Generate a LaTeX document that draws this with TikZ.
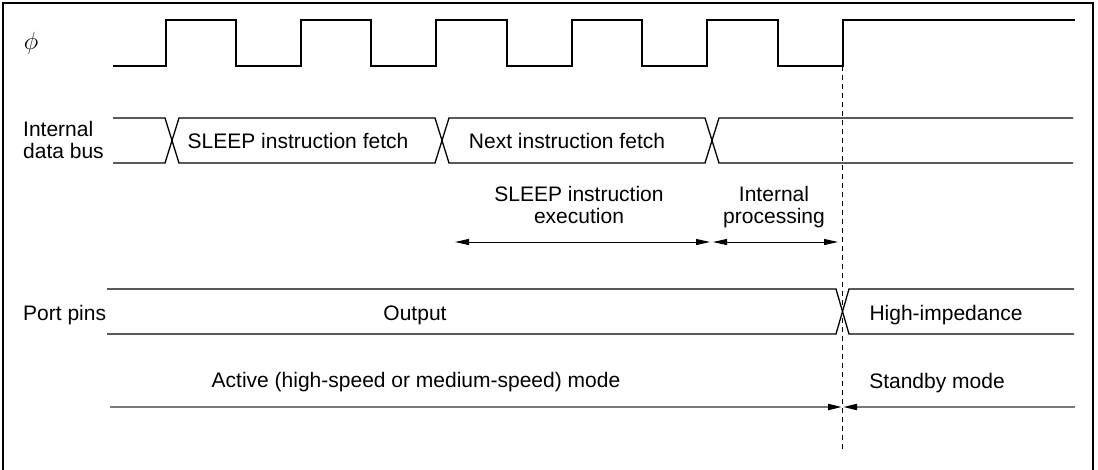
\documentclass[tikz,border=0pt]{standalone}
\usepackage{fontspec}
\setmainfont{Liberation Sans}
\usetikzlibrary{arrows.meta}
\definecolor{modegray}{RGB}{120,120,120}
\tikzset{
  txt/.style={inner sep=0pt, font=\fontsize{21}{22}\selectfont, anchor=base},
  wave/.style={line width=1.3pt, line join=miter},
  dim/.style={line width=1pt, {Triangle[length=14pt,width=6pt]}-{Triangle[length=14pt,width=6pt]}},
  modeline/.style={line width=2pt, modegray, -{Triangle[length=14pt,width=6pt,color=black]}},
  guide/.style={line width=0.9pt, dash pattern=on 5pt off 4pt},
}
\begin{document}
\begin{tikzpicture}[x=1pt,y=-1pt]
\useasboundingbox (0,0) rectangle (1098,469);
% frame
\draw[line width=1.2pt] (3,470) -- (3,3) -- (1093,3) -- (1093,470);

% clock
\draw[wave] (113,66) -- (166,66) -- (166,20) -- (236,20) -- (236,66) -- (301,66) -- (301,20) -- (371,20) -- (371,66)
  -- (436,66) -- (436,20) -- (507,20) -- (507,66) -- (572,66) -- (572,20) -- (642,20) -- (642,66)
  -- (707,66) -- (707,20) -- (778,20) -- (778,66) -- (843,66) -- (843,20) -- (1075,20);

% internal data bus
\draw[wave] (113,118) -- (165,118) -- (179,163) -- (435,163) -- (449,118) -- (705,118) -- (719,163) -- (1073,163);
\draw[wave] (113,163) -- (165,163) -- (179,118) -- (435,118) -- (449,163) -- (705,163) -- (719,118) -- (1073,118);

% port pins
\draw[wave] (107,289) -- (836,289) -- (849,334) -- (1074,334);
\draw[wave] (107,334) -- (836,334) -- (849,289) -- (1074,289);

% guide line
\coordinate (gtop) at (842,66);
\coordinate (gbot) at (842,452);
\draw[guide] (gtop) -- (gbot);

% labels
\node[inner sep=0pt, font=\fontsize{27}{28}\selectfont] (phi) at (31,43) {$\phi$};
\node[txt, anchor=base west, align=left] (idb) at (23,158) {Internal\\data bus};
\node[txt, anchor=base west] (pp) at (23,320) {Port pins};
\node[txt] (sif) at (298,148) {SLEEP instruction fetch};
\node[txt] (nif) at (567,148) {Next instruction fetch};
\node[txt, align=center] (sie) at (579,223) {SLEEP instruction\\execution};
\node[txt, align=center] (ip) at (774,223) {Internal\\processing};
\node[txt] (out) at (415,320) {Output};
\node[txt] (hz) at (946,320) {High-impedance};
\node[txt] (act) at (416,387) {Active (high-speed or medium-speed) mode};
\node[txt] (stb) at (937,388) {Standby mode};

% dimension arrows
\coordinate (e1) at (455,242);
\coordinate (e2) at (710,242);
\coordinate (p1) at (713,242);
\coordinate (p2) at (838,242);
\draw[dim] (e1) -- (e2);
\draw[dim] (p1) -- (p2);

% mode arrows
\coordinate (m1) at (110,407);
\coordinate (m2) at (842,407);
\coordinate (m3) at (1075,407);
\coordinate (m4) at (843,407);
\draw[modeline] (m1) -- (m2);
\draw[modeline] (m3) -- (m4);
\end{tikzpicture}
\end{document}
